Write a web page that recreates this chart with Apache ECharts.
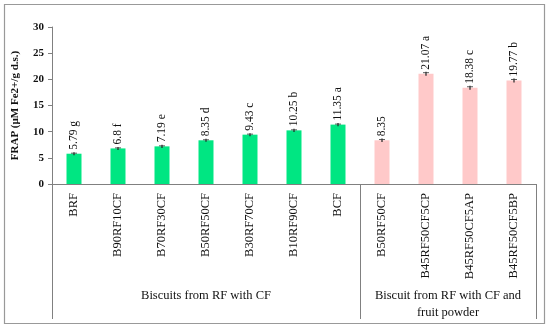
<!DOCTYPE html>
<html><head><meta charset="utf-8">
<script src="https://cdn.jsdelivr.net/npm/echarts@6/dist/echarts.min.js"></script>
<style>html,body{margin:0;padding:0;background:#fff}#c{width:550px;height:329px}</style>
</head><body><div id="c"></div>
<script>
const categories = ['BRF','B90RF10CF','B70RF30CF','B50RF50CF','B30RF70CF','B10RF90CF','BCF','B50RF50CF ','B45RF50CF5CP','B45RF50CF5AP','B45RF50CF5BP'];
const values = [5.79, 6.8, 7.19, 8.35, 9.43, 10.25, 11.35, 8.35, 21.07, 18.38, 19.77];
const errors = [0.1, 0.1, 0.1, 0.1, 0.1, 0.1, 0.1, 0.15, 0.2, 0.2, 0.2];
const letters = ['g','f','e','d','c','b','a','','a','c','b'];
const groupNames = ['Biscuits from RF with CF', 'Biscuit from RF with CF and\nfruit powder'];
const groupSizes = [7, 4];
const yTicks = {min: 0, max: 30, interval: 5};

const GREEN = '#00E682', PINK = '#FFC9C9';
const FONT = 'Liberation Serif';
const chart = echarts.init(document.getElementById('c'));
const barData = values.map((v, i) => ({
  value: v,
  itemStyle: {color: i < groupSizes[0] ? GREEN : PINK},
  label: {formatter: letters[i] ? v + ' ' + letters[i] : String(v)}
}));
const option = {
  animation: false,
  grid: {left: 52, right: 14, top: 27, bottom: 145},
  xAxis: {
    type: 'category', data: categories,
    axisLine: {lineStyle: {color: '#808080', width: 1}},
    axisTick: {show: false},
    axisLabel: {rotate: 90, fontFamily: FONT, fontSize: 12.5, color: '#111', margin: 9, interval: 0,
      formatter: v => v.trim()}
  },
  yAxis: {
    type: 'value', min: yTicks.min, max: yTicks.max, interval: yTicks.interval,
    name: 'FRAP (µM Fe2+/g d.s.)', nameLocation: 'middle', nameGap: 31,
    nameTextStyle: {fontFamily: FONT, fontWeight: 'bold', fontSize: 11, color: '#111'},
    axisLine: {show: true, lineStyle: {color: '#808080'}},
    axisTick: {show: true, length: 4, lineStyle: {color: '#808080'}},
    splitLine: {show: false},
    axisLabel: {fontFamily: FONT, fontWeight: 'bold', fontSize: 11, color: '#111', margin: 8}
  },
  series: [{
    type: 'bar', data: barData, barWidth: 15,
    label: {show: true, position: 'top', rotate: 90, align: 'left', verticalAlign: 'middle',
      distance: 4, fontFamily: FONT, fontSize: 11.5, color: '#111'}
  }, {
    type: 'custom',
    data: values.map((v, i) => [i, v, errors[i]]),
    z: 10,
    renderItem: (params, api) => {
      const x = api.value(0), y = api.value(1), e = api.value(2);
      const top = api.coord([x, y + e]), bot = api.coord([x, y - e]);
      const half = 3;
      return {type: 'group', children: [
        {type: 'line', shape: {x1: top[0], y1: top[1] - 1, x2: bot[0], y2: bot[1] + 1}, style: {stroke: '#222', lineWidth: 1.2}},
        {type: 'line', shape: {x1: top[0]-half, y1: top[1], x2: top[0]+half, y2: top[1]}, style: {stroke: '#333', lineWidth: 0.8}}
      ]};
    }
  }]
};
chart.setOption(option);

// separators and group labels from the category scale
const x0 = chart.convertToPixel({xAxisIndex: 0}, 0);
const x1 = chart.convertToPixel({xAxisIndex: 0}, 1);
const step = x1 - x0;
const axisY = chart.convertToPixel({yAxisIndex: 0}, 0);
const graphics = [{type: 'rect', shape: {x: 4.5, y: 4.5, width: 540, height: 319}, style: {fill: 'none', stroke: '#999', lineWidth: 1.2}}];
let start = 0;
const bounds = [start];
groupSizes.forEach(n => { start += n; bounds.push(start); });
bounds.forEach(b => {
  const px = Math.round(x0 - step / 2 + b * step) + 0.5;
  graphics.push({type: 'line', shape: {x1: px, y1: axisY, x2: px, y2: 319}, style: {stroke: '#808080', lineWidth: 1}});
});
groupNames.forEach((name, gi) => {
  const cx = x0 - step / 2 + (bounds[gi] + bounds[gi + 1]) / 2 * step;
  graphics.push({type: 'text', x: cx, y: 287, style: {text: name, fontFamily: FONT, fontSize: 12.5, fill: '#111', align: 'center', verticalAlign: 'top', lineHeight: 17}});
});
chart.setOption({graphic: graphics});
</script></body></html>
